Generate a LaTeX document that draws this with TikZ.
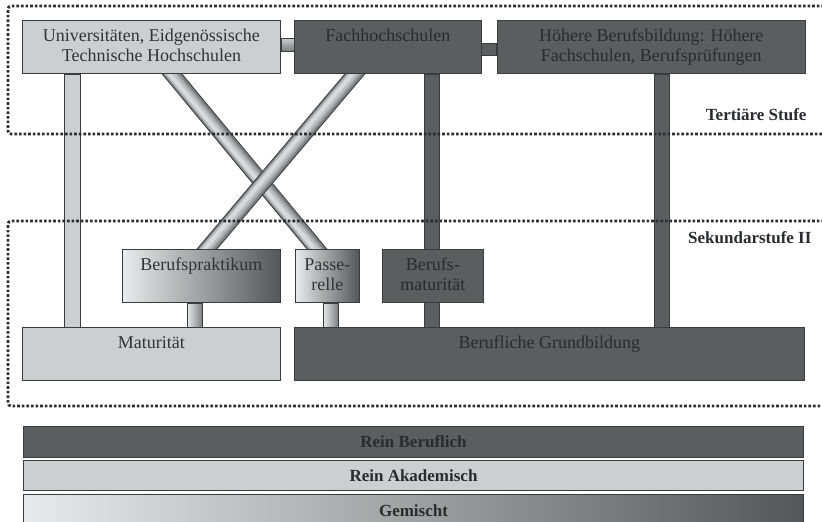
\documentclass[tikz,border=0pt]{standalone}
\usepackage{fontspec}
\setmainfont{Liberation Serif}
\usetikzlibrary{positioning,backgrounds}

\definecolor{akad}{HTML}{CDCED0}
\definecolor{beruf}{HTML}{5C5D5F}
\definecolor{edge}{HTML}{3A3B3D}
\definecolor{ink}{HTML}{333333}
\definecolor{inkdark}{HTML}{2A2B2D}
\definecolor{mixl}{HTML}{E9EAEB}
\definecolor{mixm}{HTML}{BFC0C2}
\definecolor{mixr}{HTML}{55565A}
\definecolor{rodA}{HTML}{7E7F81}
\definecolor{rodB}{HTML}{A0A1A3}
\definecolor{rodC}{HTML}{BEBFC1}
\definecolor{rodD}{HTML}{D8D9DA}

\tikzset{
  box/.style={draw=edge,line width=0.9pt,inner sep=0pt,anchor=north west,align=center,
    font=\fontsize{18}{20}\selectfont},
  akadbox/.style={box,fill=akad,text=ink},
  berufbox/.style={box,fill=beruf,text=inkdark},
  mixbox/.style={box,left color=mixl,middle color=mixm,right color=mixr,text=ink},
  oneline/.style={text height=21pt,text depth=32pt},
  twolines/.style={text height=41pt,text depth=12pt},
  barlight/.style={draw=edge,line width=0.8pt,fill=akad},
  bardark/.style={draw=edge,line width=0.8pt,fill=beruf},
  barmix/.style={draw=edge,line width=0.8pt,left color=mixl,right color=rodA},
  stufe/.style={anchor=east,font=\bfseries\fontsize{17}{20}\selectfont,text=inkdark},
  legend/.style={draw=edge,line width=1pt,minimum width=780pt,inner sep=0pt,
    font=\bfseries\fontsize{17}{20}\selectfont,text=inkdark},
  frame/.style={draw=inkdark,line width=2.8pt,dash pattern=on 2.6pt off 2pt,rounded corners=3pt}
}

\begin{document}
\begin{tikzpicture}[x=1pt,y=-1pt]
  \useasboundingbox (0,0) rectangle (822,522);

  % tertiaer
  \node[akadbox,twolines,minimum width=258pt] (uni) at (22,20) {Universitäten, Eidgenössische\\Technische Hochschulen};
  \node[berufbox,oneline,minimum width=187pt] (fh) [right=13pt of uni] {Fachhochschulen};
  \node[berufbox,twolines,minimum width=308pt] (hb) [right=15pt of fh] {Höhere Berufsbildung: Höhere\\Fachschulen, Berufsprüfungen};

  % sekundar II
  \node[mixbox,oneline,minimum width=158pt] (bp) at (122,249) {Berufspraktikum};
  \node[mixbox,twolines,minimum width=64pt] (pass) [right=14pt of bp] {Passe-\\relle};
  \node[berufbox,twolines,minimum width=101pt] (bm) [right=22pt of pass] {Berufs-\\maturität};
  \node[akadbox,oneline,minimum width=258pt] (mat) at (22,327) {Maturität};
  \node[berufbox,oneline,minimum width=510pt] (bg) [right=13pt of mat] {Berufliche Grundbildung};

  \node[stufe] (tert) at (810,115) {Tertiäre Stufe};
  \node[stufe] (sek) at (815,238) {Sekundarstufe II};

  % legende
  \node[legend,fill=beruf,minimum height=31pt,anchor=north west] (rb) at (23,426) {Rein Beruflich};
  \node[legend,fill=akad,minimum height=30pt] (ra) [below=2pt of rb] {Rein Akademisch};
  \node[legend,left color=mixl,middle color=mixm,right color=mixr,minimum height=32pt] (gm) [below=3pt of ra] {Gemischt};

  \begin{scope}[on background layer]
    \shade[draw=edge,line width=0.8pt,top color=akad,bottom color=rodA]
      ([yshift=-18pt]uni.north east) rectangle ([yshift=-31pt]fh.north west);
    \draw[bardark] ([yshift=-23pt]fh.north east) rectangle ([yshift=-35pt]hb.north west);
    \draw[barlight] ([xshift=42pt]uni.south west) rectangle ([xshift=58pt]mat.north west);
    \draw[bardark] ([xshift=130pt]fh.south west) rectangle ([xshift=145pt]bg.north west);
    \draw[bardark] ([xshift=158pt]hb.south west) rectangle ([xshift=-135pt]bg.north east);
    \draw[barmix] ([xshift=65pt]bp.south west) rectangle ([xshift=180pt]mat.north west);
    \draw[barmix] ([xshift=28pt]pass.south west) rectangle ([xshift=44pt]bg.north west);
    \foreach \w/\c/\s in {16/edge/0,14/rodA/0,11/rodB/-0.8,8/rodC/-1.6,4/rodD/-2.4}
      \draw[line width=\w pt,color=\c,shorten <=-7pt,shorten >=-7pt,transform canvas={xshift=\s pt}]
        ([xshift=150pt]uni.south west) -- ([xshift=22pt]pass.north west);
    \foreach \w/\c/\s in {16/edge/0,14/rodA/0,11/rodB/-0.8,8/rodC/-1.6,4/rodD/-2.4}
      \draw[line width=\w pt,color=\c,shorten <=-7pt,shorten >=-7pt,transform canvas={xshift=\s pt}]
        ([xshift=61pt]fh.south west) -- ([xshift=85pt]bp.north west);
  \end{scope}

  \draw[frame] (824,6) -- (8,6) -- (8,134) -- (824,134);
  \draw[frame] (824,221) -- (8,221) -- (8,406) -- (824,406);
\end{tikzpicture}
\end{document}
